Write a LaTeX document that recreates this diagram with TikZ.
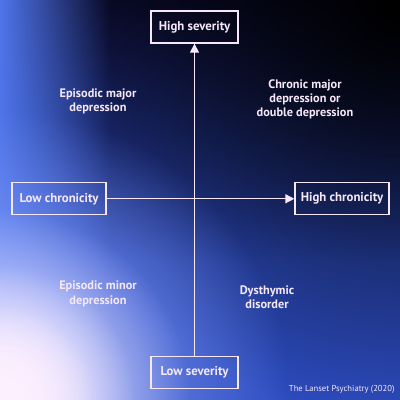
\documentclass[tikz,border=0pt]{standalone}
\usepackage{fontspec}
\setmainfont{PT Sans}
\usetikzlibrary{arrows.meta,fadings}
\definecolor{txt}{HTML}{F6E8F8}
\definecolor{bgblue}{HTML}{2D4CC0}
\definecolor{darknavy}{HTML}{0C0C30}
\definecolor{leftglow}{HTML}{4F75EA}
\definecolor{lightglow}{HTML}{8FA8FF}
\definecolor{whiteglow}{HTML}{FDF0FF}
\tikzfading[name=radfade, inner color=transparent!0, outer color=transparent!100]
\tikzfading[name=fadeR, left color=transparent!0, right color=transparent!100]
\tikzfading[name=fadeD, top color=transparent!0, bottom color=transparent!100]
\tikzset{
  box/.style={draw=txt, line width=1.3pt, text=txt, font=\bfseries\fontsize{12.8}{14}\selectfont,
    minimum height=32pt, inner sep=0pt},
  lab/.style={text=txt, font=\bfseries\fontsize{12.3}{14.3}\selectfont, align=center},
  axisline/.style={draw=txt, line width=1.3pt, -{Triangle[length=9pt,width=9pt]}},
  wmtext/.style={text=txt, font=\fontsize{8.6}{9}\selectfont}
}
\begin{document}
\begin{tikzpicture}[x=1pt,y=-1pt]
\useasboundingbox (0,0) rectangle (400,400);
\begin{scope}
\clip (0,0) rectangle (400,400);
\fill[bgblue] (0,0) rectangle (400,400);
\fill[darknavy, path fading=fadeD] (0,0) rectangle (400,260);
\fill[black, path fading=radfade] (400,0) ellipse [x radius=380, y radius=420];
\fill[leftglow, path fading=fadeR] (0,0) rectangle (110,400);
\fill[lightglow, path fading=radfade] (0,400) circle (290);
\fill[whiteglow, path fading=radfade] (0,400) circle (190);
\fill[whiteglow, path fading=radfade] (0,400) circle (135);
\fill[whiteglow, path fading=radfade] (0,400) circle (95);
\end{scope}

\node[box, minimum width=87pt] (hs) at (194.5,27) {High severity};
\node[box, minimum width=87pt] (ls) at (194.5,372.5) {Low severity};
\node[box, minimum width=94pt] (lc) at (59,198.8) {Low chronicity};
\node[box, minimum width=94pt] (hc) at (342,198.8) {High chronicity};

\draw[axisline] (ls) -- (hs);
\draw[axisline] (lc) -- (hc);

\node[lab] (emaj) at (98,101.5) {Episodic major\\depression};
\node[lab] (cmaj) at (305,99.5) {Chronic major\\depression or\\double depression};
\node[lab] (emin) at (98,294) {Episodic minor\\depression};
\node[lab] (dys) at (267,297.5) {Dysthymic\\disorder};
\node[wmtext, anchor=south east] (wm) at (398,397) {The Lanset Psychiatry (2020)};
\end{tikzpicture}
\end{document}
